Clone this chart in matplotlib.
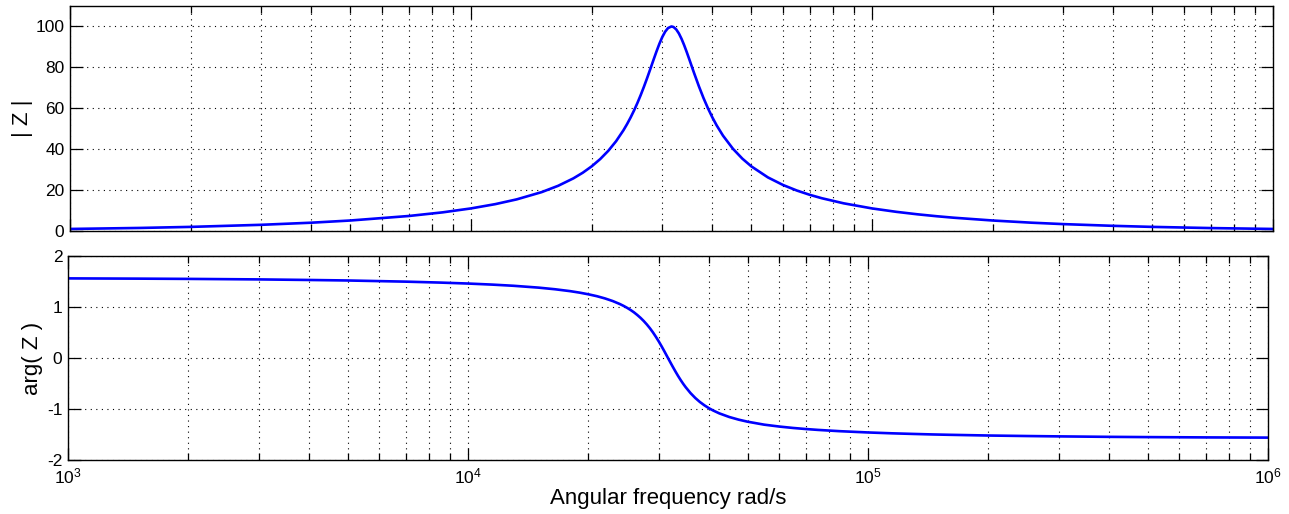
import matplotlib
matplotlib.use("Agg")
import matplotlib.pyplot as plt
from matplotlib.ticker import LogLocator, NullFormatter, FixedLocator

plt.rcParams['font.family'] = ['Liberation Sans', 'DejaVu Sans']
plt.rcParams['mathtext.fontset'] = 'custom'
plt.rcParams['mathtext.rm'] = 'Liberation Sans'
plt.rcParams['mathtext.it'] = 'Liberation Sans'
plt.rcParams['mathtext.default'] = 'regular'
plt.rcParams['axes.unicode_minus'] = False

# Angular frequency (rad/s)
omega = [1e3, 1.5e3, 2e3, 3e3, 4e3, 5e3, 7e3, 8.5e3, 1e4, 1.15e4, 1.3e4, 1.5e4, 1.65e4,
         1.8e4, 1.9e4, 2e4, 2.1e4, 2.2e4, 2.3e4, 2.4e4, 2.45e4, 2.5e4, 2.55e4, 2.6e4,
         2.65e4, 2.7e4, 2.75e4, 2.8e4, 2.85e4, 2.9e4, 2.95e4, 3.0e4, 3.05e4, 3.1e4,
         3.162e4, 3.2e4, 3.25e4, 3.3e4, 3.35e4, 3.4e4, 3.45e4, 3.5e4, 3.6e4, 3.7e4,
         3.8e4, 3.9e4, 4.0e4, 4.1e4, 4.25e4, 4.5e4, 4.75e4, 5e4, 5.5e4, 6e4, 6.5e4,
         7e4, 7.5e4, 8.5e4, 1e5, 1.15e5, 1.3e5, 1.45e5, 1.6e5, 2e5, 2.5e5, 3e5, 4e5,
         5e5, 7e5, 1e6]

# |Z| values
mag = [1.00, 1.50, 2.01, 3.03, 4.06, 5.13, 7.34, 9.12, 11.04, 13.14, 15.46, 19.00, 22.11,
       25.73, 28.50, 31.62, 35.17, 39.22, 43.88, 49.26, 52.26, 55.47, 58.91, 62.58,
       66.48, 70.58, 74.83, 79.18, 83.51, 87.68, 91.54, 94.87, 97.48, 99.22,
       100.0, 99.72, 98.53, 96.55, 93.94, 90.89, 87.57, 84.12, 77.24, 70.81,
       65.02, 59.93, 55.47, 51.58, 46.63, 40.20, 35.37, 31.62, 26.21, 22.49, 19.76,
       17.67, 16.01, 13.53, 11.04, 9.37, 8.15, 7.22, 6.49, 5.13, 4.06, 3.37, 2.52,
       2.01, 1.43, 1.00]

# arg(Z) values (rad)
phase = [1.561, 1.556, 1.551, 1.541, 1.530, 1.520, 1.497, 1.479, 1.460, 1.439, 1.416, 1.380, 1.348,
         1.311, 1.282, 1.249, 1.212, 1.168, 1.117, 1.056, 1.021, 0.983, 0.941, 0.895,
         0.843, 0.787, 0.725, 0.657, 0.583, 0.502, 0.414, 0.322, 0.225, 0.125,
         0.0, -0.075, -0.171, -0.263, -0.350, -0.430, -0.504, -0.571, -0.688, -0.784,
         -0.863, -0.928, -0.983, -1.029, -1.086, -1.157, -1.209, -1.249, -1.307, -1.344, -1.372,
         -1.393, -1.410, -1.435, -1.460, -1.477, -1.489, -1.499, -1.506, -1.520, -1.530, -1.537, -1.546,
         -1.551, -1.557, -1.561]

mag_ticks = [0, 20, 40, 60, 80, 100]
phase_ticks = [-2, -1, 0, 1, 2]

W, H = 1289, 514
fig = plt.figure(figsize=(W / 100, H / 100), dpi=100)
fig.patch.set_facecolor('white')

def rect(l, t, r, b):
    return [l / W, 1 - b / H, (r - l) / W, (b - t) / H]

ax1 = fig.add_axes(rect(70, 6, 1273, 231))
ax2 = fig.add_axes(rect(68, 256, 1268, 460))

blue = '#0000ff'
ax1.plot(omega, mag, color=blue, lw=1.9)
ax2.plot(omega, phase, color=blue, lw=1.9)

for ax in (ax1, ax2):
    ax.set_xscale('log')
    ax.set_xlim(1e3, 1e6)
    ax.xaxis.set_major_locator(LogLocator(base=10, numticks=10))
    ax.xaxis.set_minor_locator(LogLocator(base=10, subs=[2, 3, 4, 5, 6, 7, 8, 9], numticks=20))
    ax.xaxis.set_minor_formatter(NullFormatter())
    ax.grid(True, which='major', axis='both', linestyle=(0, (1, 4)), color='black', lw=0.8)
    ax.grid(True, which='minor', axis='x', linestyle=(0, (1, 4)), color='black', lw=0.8)
    ax.tick_params(which='major', direction='in', length=9, width=0.9, top=True, right=True,
                   labelsize=12.5, colors='black', pad=4)
    ax.tick_params(which='minor', direction='in', length=5, width=0.9, top=True, right=True)
    ax.tick_params(axis='x', which='major', pad=5)
    for s in ax.spines.values():
        s.set_linewidth(1.0)
        s.set_color('black')

ax1.set_ylim(0, 110)
ax1.yaxis.set_major_locator(FixedLocator(mag_ticks))
ax1.tick_params(axis='x', labelbottom=False)
ax1.set_ylabel('| Z |', fontsize=16)
ax1.yaxis.set_label_coords(-0.031, 0.5)

ax2.set_ylim(-2, 2)
ax2.yaxis.set_major_locator(FixedLocator(phase_ticks))
ax2.set_ylabel('arg( Z )', fontsize=16)
ax2.yaxis.set_label_coords(-0.021, 0.5)
ax2.set_xlabel('Angular frequency rad/s', fontsize=16, labelpad=1)

fig.savefig('out.png', dpi=100, facecolor='white')
